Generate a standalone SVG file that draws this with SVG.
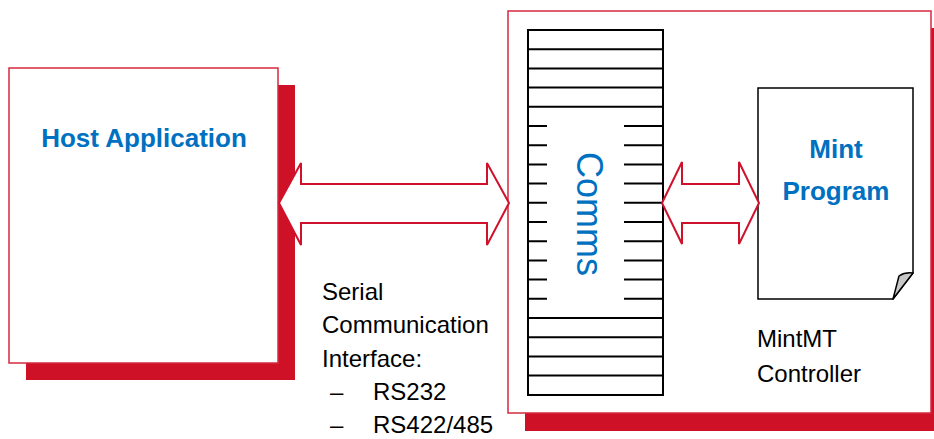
<svg xmlns="http://www.w3.org/2000/svg" width="934" height="439" viewBox="0 0 934 439">
<style>
.shadow{fill:#CE1126;stroke:none}
.box{fill:#fff;stroke:#D42A3F;stroke-width:1.5}
.arrow{fill:#fff;stroke:#D0112B;stroke-width:2;stroke-linejoin:miter}
.title{font-family:"Liberation Sans",Arial,sans-serif;font-weight:bold;font-size:26px;fill:#0070C0}
.lbl{font-family:"Liberation Sans",Arial,sans-serif;font-size:24px;fill:#000}
.row{stroke:#000;stroke-width:2}
</style>
<rect x="0" y="0" width="934" height="439" fill="#fff"/>
<g id="host">
  <rect class="shadow" x="26" y="85" width="269" height="295"/>
  <rect class="box" x="9" y="68" width="269" height="295"/>
  <text class="title" x="144" y="147" text-anchor="middle">Host Application</text>
</g>
<g id="controller">
  <rect class="shadow" x="525" y="28" width="422" height="403"/>
  <rect class="box" x="508" y="11" width="423" height="402"/>
  <text class="lbl" x="757" y="347">MintMT</text>
  <text class="lbl" x="757" y="382">Controller</text>
</g>
<g id="comms">
  <rect x="528" y="30" width="135" height="365" fill="#fff" stroke="#000" stroke-width="2"/>
  <g class="row">
    <line x1="528" y1="49.2" x2="663" y2="49.2"/>
    <line x1="528" y1="68.4" x2="663" y2="68.4"/>
    <line x1="528" y1="87.6" x2="663" y2="87.6"/>
    <line x1="528" y1="106.8" x2="663" y2="106.8"/>
    <line x1="528" y1="126" x2="663" y2="126"/>
    <line x1="528" y1="145.2" x2="663" y2="145.2"/>
    <line x1="528" y1="164.4" x2="663" y2="164.4"/>
    <line x1="528" y1="183.6" x2="663" y2="183.6"/>
    <line x1="528" y1="202.8" x2="663" y2="202.8"/>
    <line x1="528" y1="222" x2="663" y2="222"/>
    <line x1="528" y1="241.2" x2="663" y2="241.2"/>
    <line x1="528" y1="260.4" x2="663" y2="260.4"/>
    <line x1="528" y1="279.6" x2="663" y2="279.6"/>
    <line x1="528" y1="298.8" x2="663" y2="298.8"/>
    <line x1="528" y1="318" x2="663" y2="318"/>
    <line x1="528" y1="337.2" x2="663" y2="337.2"/>
    <line x1="528" y1="356.4" x2="663" y2="356.4"/>
    <line x1="528" y1="375.6" x2="663" y2="375.6"/>
  </g>
  <rect x="547" y="108" width="77" height="209" fill="#fff" stroke="none"/>
  <text transform="translate(577,214) rotate(90)" text-anchor="middle" style="font-family:'Liberation Sans',Arial,sans-serif;font-size:36px;fill:#0070C0">Comms</text>
</g>
<g id="mint">
  <path d="M758,88 H913 V273 L893,299 H758 Z" fill="#fff" stroke="#000" stroke-width="1.5"/>
  <path d="M893,299 L899,276 Q905,272 913,273 Z" fill="#C8C8C8" stroke="#000" stroke-width="1.5" stroke-linejoin="round"/>
  <text class="title" x="836" y="158" text-anchor="middle">Mint</text>
  <text class="title" x="836" y="200" text-anchor="middle">Program</text>
</g>
<g id="serial">
  <text class="lbl" x="322" y="300">Serial</text>
  <text class="lbl" x="322" y="333">Communication</text>
  <text class="lbl" x="322" y="367">Interface:</text>
  <text class="lbl" x="330" y="400">–</text>
  <text class="lbl" x="373" y="400">RS232</text>
  <text class="lbl" x="330" y="433">–</text>
  <text class="lbl" x="373" y="433">RS422/485</text>
</g>
<g id="connectors">
  <path class="arrow" d="M279,203 L301,163 V184 H487 V163 L509,203 L487,245 V223 H301 V245 Z"/>
  <path class="arrow" d="M662,203 L682,162 V184 H739 V162 L759,203 L739,244 V223 H682 V244 Z"/>
</g>
</svg>
